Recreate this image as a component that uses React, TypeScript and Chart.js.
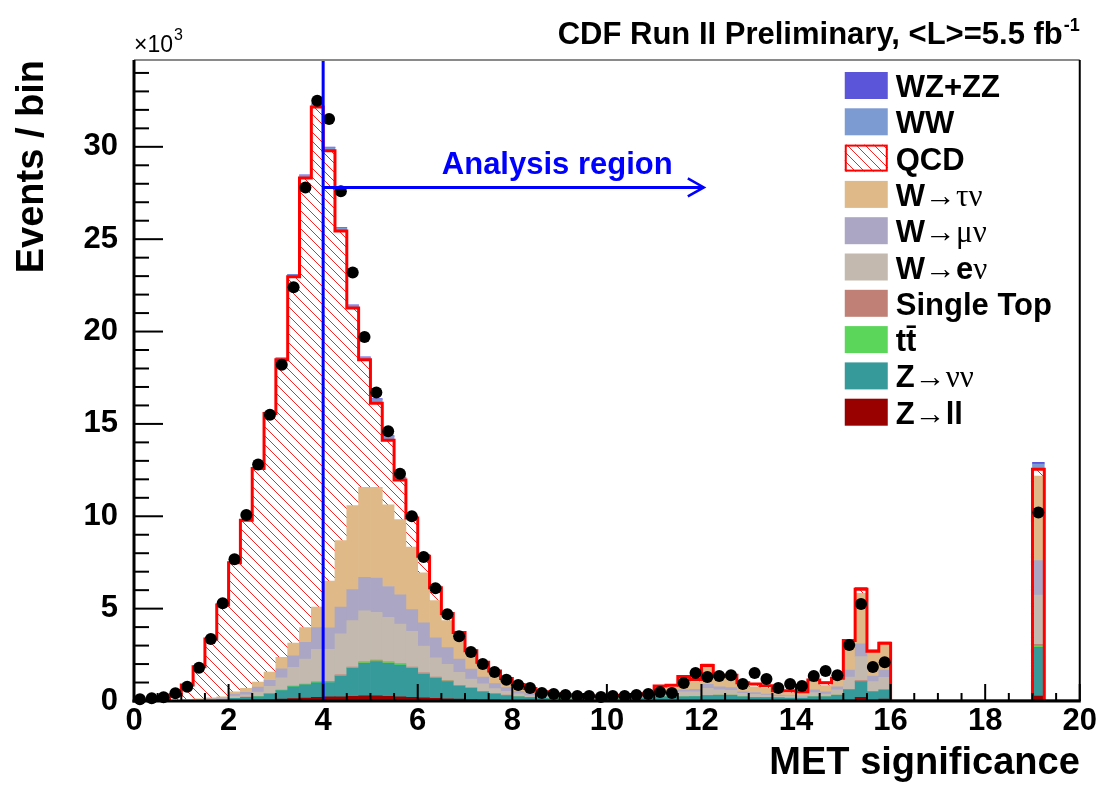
import React, { useEffect, useRef } from 'react';
import { Chart, registerables } from 'chart.js';

Chart.register(...registerables);

// ---------------- axes ----------------
const X_MIN = 0;
const X_MAX = 20;
const BIN_WIDTH = 0.25;
const N_BINS = 80;
const Y_MAX = 34.7; // ×10^3 events
const X_LABEL_STEP = 2;
const X_MINOR_STEP = 0.5;
const Y_LABEL_STEP = 5;
const Y_MINOR_STEP = 1;

// ---------------- values (×10^3 events / bin), 80 bins of 0.25 ----------------
const zll = [
  0, 0, 0.001, 0.002, 0.003, 0.005, 0.008, 0.012, 0.03, 0.04,
  0.06, 0.08, 0.1, 0.13, 0.16, 0.2, 0.23, 0.23, 0.25, 0.28,
  0.28, 0.25, 0.22, 0.2, 0.17, 0.15, 0.12, 0.1, 0.08, 0.06,
  0.05, 0.04, 0.03, 0.02, 0.015, 0.012, 0.01, 0.01, 0.01, 0.01,
  0.01, 0.01, 0.01, 0.01, 0.02, 0.02, 0.02, 0.02, 0.03, 0.02,
  0.02, 0.02, 0.02, 0.02, 0.02, 0.02, 0.02, 0.02, 0.02, 0.02,
  0.05, 0.2, 0.05, 0.1, 0, 0, 0, 0, 0, 0,
  0, 0, 0, 0, 0, 0, 0.27, 0, 0, 0,
];
const znunu = [
  0.002, 0.004, 0.006, 0.01, 0.015, 0.02, 0.035, 0.05, 0.11, 0.16,
  0.17, 0.3, 0.46, 0.64, 0.71, 0.79, 0.77, 1.12, 1.52, 1.76,
  1.85, 1.79, 1.73, 1.57, 1.29, 1.08, 0.93, 0.71, 0.61, 0.44,
  0.33, 0.26, 0.19, 0.16, 0.13, 0.11, 0.09, 0.08, 0.08, 0.08,
  0.09, 0.1, 0.12, 0.15, 0.2, 0.2, 0.2, 0.22, 0.26, 0.29,
  0.29, 0.2, 0.17, 0.17, 0.15, 0.13, 0.13, 0.2, 0.2, 0.29,
  0.55, 0.85, 0.44, 0.49, 0, 0, 0, 0, 0, 0,
  0, 0, 0, 0, 0, 0, 2.63, 0, 0, 0,
];
const ttbar = [
  0, 0, 0, 0, 0.001, 0.002, 0.003, 0.004, 0.005, 0.005,
  0.01, 0.01, 0.015, 0.02, 0.02, 0.025, 0.03, 0.03, 0.035, 0.04,
  0.04, 0.04, 0.04, 0.035, 0.03, 0.03, 0.025, 0.02, 0.02, 0.015,
  0.01, 0.01, 0.008, 0.006, 0.005, 0.004, 0.004, 0.003, 0.003, 0.003,
  0.003, 0.003, 0.004, 0.005, 0.005, 0.005, 0.005, 0.005, 0.005, 0.005,
  0.005, 0.005, 0.005, 0.005, 0.005, 0.005, 0.005, 0.005, 0.005, 0.005,
  0.01, 0.02, 0.01, 0.01, 0, 0, 0, 0, 0, 0,
  0, 0, 0, 0, 0, 0, 0.07, 0, 0, 0,
];
const singleTop = [
  0, 0, 0, 0, 0.001, 0.002, 0.003, 0.004, 0.005, 0.005,
  0.01, 0.01, 0.015, 0.02, 0.02, 0.025, 0.03, 0.03, 0.035, 0.04,
  0.04, 0.04, 0.04, 0.035, 0.03, 0.03, 0.025, 0.02, 0.02, 0.015,
  0.01, 0.01, 0.008, 0.006, 0.005, 0.004, 0.004, 0.003, 0.003, 0.003,
  0.003, 0.003, 0.004, 0.005, 0.005, 0.005, 0.005, 0.005, 0.005, 0.005,
  0.005, 0.005, 0.005, 0.005, 0.005, 0.005, 0.005, 0.005, 0.005, 0.005,
  0.02, 0.03, 0.01, 0.01, 0, 0, 0, 0, 0, 0,
  0, 0, 0, 0, 0, 0, 0.1, 0, 0, 0,
];
const wenu = [
  0.003, 0.005, 0.008, 0.012, 0.02, 0.03, 0.04, 0.05, 0.11, 0.12,
  0.23, 0.39, 0.66, 1.01, 1.36, 1.76, 1.73, 2.23, 2.51, 2.76,
  2.58, 2.4, 2.13, 1.93, 1.45, 1.05, 0.89, 0.7, 0.46, 0.4,
  0.27, 0.2, 0.15, 0.1, 0.07, 0.05, 0.045, 0.04, 0.035, 0.033,
  0.035, 0.04, 0.045, 0.05, 0.09, 0.09, 0.27, 0.25, 0.39, 0.28,
  0.26, 0.18, 0.16, 0.12, 0.09, 0.09, 0.07, 0.22, 0.15, 0.28,
  0.67, 1.3, 0.54, 0.67, 0, 0, 0, 0, 0, 0,
  0, 0, 0, 0, 0, 0, 2.67, 0, 0, 0,
];
const wmunu = [
  0.002, 0.004, 0.006, 0.01, 0.015, 0.02, 0.03, 0.04, 0.11, 0.14,
  0.27, 0.33, 0.49, 0.63, 0.9, 1.17, 1.17, 1.44, 1.68, 1.81,
  1.86, 1.68, 1.59, 1.18, 1.26, 1.08, 0.9, 0.72, 0.54, 0.36,
  0.27, 0.2, 0.14, 0.11, 0.08, 0.06, 0.05, 0.045, 0.04, 0.037,
  0.04, 0.04, 0.045, 0.05, 0.18, 0.18, 0.1, 0.13, 0.21, 0.17,
  0.14, 0.09, 0.09, 0.06, 0.05, 0.05, 0.04, 0.15, 0.12, 0.17,
  0.38, 0.7, 0.3, 0.4, 0, 0, 0, 0, 0, 0,
  0, 0, 0, 0, 0, 0, 1.86, 0, 0, 0,
];
const wtaunu = [
  0.003, 0.006, 0.01, 0.015, 0.025, 0.04, 0.05, 0.07, 0.12, 0.22,
  0.28, 0.45, 0.63, 0.69, 0.81, 1.12, 2.53, 3.61, 4.55, 4.88,
  4.92, 4.42, 4.07, 3.38, 2.71, 2.02, 1.46, 1.09, 0.9, 0.72,
  0.57, 0.43, 0.32, 0.23, 0.15, 0.12, 0.1, 0.085, 0.08, 0.075,
  0.075, 0.08, 0.085, 0.1, 0.22, 0.26, 0.63, 0.42, 0.96, 0.46,
  0.6, 0.42, 0.32, 0.31, 0.15, 0.14, 0.14, 0.43, 0.33, 0.4,
  1.57, 2.73, 1.29, 1.42, 0, 0, 0, 0, 0, 0,
  0, 0, 0, 0, 0, 0, 4.58, 0, 0, 0,
];
const qcd = [
  0.02, 0.04, 0.09, 0.27, 0.79, 1.74, 3.19, 4.97, 7.0, 9.1,
  11.55, 13.99, 16.1, 19.82, 24.33, 27.06, 23.3, 16.75, 10.7, 6.9,
  4.55, 3.5, 2.15, 1.58, 0.9, 0.69, 0.38, 0.35, 0.09, 0.09,
  0.11, 0.07, 0.05, 0.04, 0.04, 0.03, 0.03, 0.027, 0.022, 0.022,
  0.02, 0.02, 0.02, 0.025, 0.09, 0.09, 0.09, 0.12, 0.06, 0.09,
  0.08, 0.07, 0.15, 0.14, 0.09, 0.11, 0.09, 0.11, 0.16, 0.06,
  0.03, 0.22, 0.05, 0.03, 0, 0, 0, 0, 0, 0,
  0, 0, 0, 0, 0, 0, 0.37, 0, 0, 0,
];
const ww = [
  0, 0, 0, 0.002, 0.004, 0.006, 0.01, 0.02, 0.03, 0.04,
  0.05, 0.07, 0.09, 0.12, 0.15, 0.15, 0.17, 0.17, 0.13, 0.13,
  0.2, 0.2, 0.12, 0.1, 0.08, 0.07, 0.06, 0.05, 0.04, 0.03,
  0.03, 0.02, 0.015, 0.012, 0.01, 0.01, 0.007, 0.007, 0.007, 0.007,
  0.007, 0.007, 0.007, 0.008, 0.02, 0.02, 0.03, 0.03, 0.06, 0.03,
  0.03, 0.02, 0.02, 0.02, 0.02, 0.02, 0.02, 0.03, 0.03, 0.03,
  0.03, 0.07, 0.05, 0.03, 0, 0, 0, 0, 0, 0,
  0, 0, 0, 0, 0, 0, 0.28, 0, 0, 0,
];
const wzzz = [
  0, 0, 0, 0, 0, 0.001, 0.002, 0.003, 0.005, 0.01,
  0.01, 0.01, 0.02, 0.02, 0.03, 0.03, 0.03, 0.03, 0.03, 0.03,
  0.05, 0.05, 0.03, 0.02, 0.02, 0.02, 0.01, 0.01, 0.01, 0.01,
  0.01, 0.005, 0.003, 0.002, 0, 0, 0, 0, 0, 0,
  0, 0, 0, 0, 0.005, 0.005, 0.005, 0.005, 0.02, 0.005,
  0.005, 0.005, 0.005, 0.005, 0.005, 0.005, 0.005, 0.005, 0.005, 0.005,
  0.02, 0.03, 0.03, 0.03, 0, 0, 0, 0, 0, 0,
  0, 0, 0, 0, 0, 0, 0.09, 0, 0, 0,
];
const observed: (number | null)[] = [
  0.09, 0.15, 0.2, 0.42, 0.77, 1.8, 3.36, 5.29, 7.67, 10.07,
  12.8, 15.5, 18.2, 22.4, 27.8, 32.5, 31.5, 27.6, 23.2, 19.7,
  16.7, 14.6, 12.3, 10.0, 7.8, 6.1, 4.7, 3.5, 2.65, 2.0,
  1.57, 1.15, 0.87, 0.7, 0.43, 0.38, 0.32, 0.27, 0.27, 0.22,
  0.27, 0.27, 0.32, 0.38, 0.49, 0.43, 0.97, 1.52, 1.3, 1.35,
  1.4, 0.92, 1.52, 1.19, 0.7, 0.92, 0.81, 1.35, 1.62, 1.4,
  3.03, 5.25, 1.84, 2.1, null, null, null, null, null, null,
  null, null, null, null, null, null, 10.2, null, null, null,
];

// annotation
const CUT_VALUE = 4;
const ARROW_END = 12.05;
const ARROW_Y = 27.8;
const ANNOT_X = 8.95;
const ANNOT_TEXT = 'Analysis region';
const TITLE_MAIN = 'CDF Run II Preliminary, <L>=5.5 fb';
const TITLE_SUP = '-1';

const SANS = "'Liberation Sans', Arial, Helvetica, sans-serif";
const SERIF = "'Liberation Serif', 'Times New Roman', serif";

const COLORS = {
  zll: '#990000',
  znunu: '#379a9a',
  ttbar: '#5bd65b',
  singleTop: '#c08076',
  wenu: '#c3b9ae',
  wmunu: '#aaa6c4',
  wtaunu: '#dfba88',
  qcd: '#ff0000',
  ww: '#7c9bd3',
  wzzz: '#5b55d9',
};

// stack, bottom to top
const STACK = [
  { key: 'zll', values: zll },
  { key: 'znunu', values: znunu },
  { key: 'ttbar', values: ttbar },
  { key: 'singleTop', values: singleTop },
  { key: 'wenu', values: wenu },
  { key: 'wmunu', values: wmunu },
  { key: 'wtaunu', values: wtaunu },
  { key: 'qcd', values: qcd },
  { key: 'ww', values: ww },
  { key: 'wzzz', values: wzzz },
];

type Seg = [string, 'b' | 's'];
// legend, top to bottom
const LEGEND: { key: string; segs: Seg[] }[] = [
  { key: 'wzzz', segs: [['WZ+ZZ', 'b']] },
  { key: 'ww', segs: [['WW', 'b']] },
  { key: 'qcd', segs: [['QCD', 'b']] },
  { key: 'wtaunu', segs: [['W', 'b'], ['\u2192\u03c4\u03bd', 's']] },
  { key: 'wmunu', segs: [['W', 'b'], ['\u2192\u03bc\u03bd', 's']] },
  { key: 'wenu', segs: [['W', 'b'], ['\u2192', 's'], ['e', 'b'], ['\u03bd', 's']] },
  { key: 'singleTop', segs: [['Single Top', 'b']] },
  { key: 'ttbar', segs: [['tt\u0304', 'b']] },
  { key: 'znunu', segs: [['Z', 'b'], ['\u2192\u03bd\u03bd', 's']] },
  { key: 'zll', segs: [['Z', 'b'], ['\u2192', 's'], ['ll', 'b']] },
];

function makeHatch(): CanvasPattern | string {
  const s = 9;
  const c = document.createElement('canvas');
  c.width = s;
  c.height = s;
  const g = c.getContext('2d');
  if (!g) return '#ffffff';
  g.fillStyle = '#ffffff';
  g.fillRect(0, 0, s, s);
  g.strokeStyle = '#ff2020';
  g.lineWidth = 1;
  g.beginPath();
  g.moveTo(-1, -1);
  g.lineTo(s + 1, s + 1);
  g.moveTo(-1, s - 1);
  g.lineTo(1, s + 1);
  g.moveTo(s - 1, -1);
  g.lineTo(s + 1, 1);
  g.stroke();
  return g.createPattern(c, 'repeat') || '#ffffff';
}

export default function App() {
  const ref = useRef<HTMLCanvasElement>(null);

  useEffect(() => {
    const canvas = ref.current;
    if (!canvas) return;
    const hatch = makeHatch();

    const centers = Array.from({ length: N_BINS }, (_, i) => X_MIN + (i + 0.5) * BIN_WIDTH);

    const barSets = STACK.map((s) => ({
      type: 'bar' as const,
      label: s.key,
      data: centers.map((c, i) => ({ x: c, y: s.values[i] })),
      backgroundColor: s.key === 'qcd' ? hatch : (COLORS as any)[s.key],
      borderWidth: 0,
      barPercentage: 1,
      categoryPercentage: 1,
      order: 1,
    }));

    const qcdIdx = STACK.findIndex((s) => s.key === 'qcd');
    const qcdTop = centers.map((_, i) =>
      STACK.slice(0, qcdIdx + 1).reduce((acc, s) => acc + s.values[i], 0)
    );
    const stepPts = [
      ...qcdTop.map((v, i) => ({ x: X_MIN + i * BIN_WIDTH, y: v })),
      { x: X_MAX, y: qcdTop[N_BINS - 1] },
    ];

    const pts = centers
      .map((c, i) => (observed[i] == null ? null : { x: c, y: observed[i] as number }))
      .filter((p) => p !== null);

    const decor = {
      id: 'decor',
      afterDraw(chart: any) {
        const { ctx, chartArea: a } = chart;
        const xs = chart.scales.x;
        const ys = chart.scales.y;
        const line = (x1: number, y1: number, x2: number, y2: number) => {
          ctx.beginPath();
          ctx.moveTo(x1, y1);
          ctx.lineTo(x2, y2);
          ctx.stroke();
        };
        ctx.save();

        // cut line + arrow + text
        ctx.strokeStyle = '#0000ff';
        ctx.lineWidth = 3;
        const xc = xs.getPixelForValue(CUT_VALUE);
        line(xc, a.top, xc, a.bottom);
        const ay = ys.getPixelForValue(ARROW_Y);
        const xe = xs.getPixelForValue(ARROW_END);
        line(xc, ay, xe, ay);
        ctx.lineWidth = 2.5;
        ctx.beginPath();
        ctx.moveTo(xe - 16, ay - 9);
        ctx.lineTo(xe, ay);
        ctx.lineTo(xe - 16, ay + 9);
        ctx.stroke();
        ctx.fillStyle = '#0000ff';
        ctx.font = `bold 31px ${SANS}`;
        ctx.textAlign = 'center';
        ctx.textBaseline = 'alphabetic';
        ctx.fillText(ANNOT_TEXT, xs.getPixelForValue(ANNOT_X), ay - 13);

        // tick marks (inside the frame)
        ctx.strokeStyle = '#000';
        ctx.lineWidth = 2;
        for (let v = 0; v <= Y_MAX + 1e-9; v += Y_MINOR_STEP) {
          const py = ys.getPixelForValue(v);
          const major = Math.abs(v / Y_LABEL_STEP - Math.round(v / Y_LABEL_STEP)) < 1e-6;
          line(a.left, py, a.left + (major ? 29 : 15), py);
        }
        for (let v = X_MIN; v <= X_MAX + 1e-9; v += X_MINOR_STEP) {
          const px = xs.getPixelForValue(v);
          const major = Math.abs(v / X_LABEL_STEP - Math.round(v / X_LABEL_STEP)) < 1e-6;
          line(px, a.bottom, px, a.bottom - (major ? 17 : 8));
        }

        // frame
        ctx.strokeStyle = '#8a8a8a';
        ctx.lineWidth = 2;
        line(a.left, a.top, a.right, a.top);
        ctx.strokeStyle = '#000';
        line(a.right, a.top, a.right, a.bottom);
        ctx.lineWidth = 3;
        line(a.left, a.top, a.left, a.bottom + 1.5);
        line(a.left - 1.5, a.bottom, a.right + 1, a.bottom);

        // title
        ctx.fillStyle = '#000';
        ctx.textBaseline = 'alphabetic';
        ctx.font = `bold 18px ${SANS}`;
        const supW = ctx.measureText(TITLE_SUP).width;
        const mainRight = a.right - supW - 1;
        ctx.textAlign = 'left';
        ctx.fillText(TITLE_SUP, mainRight + 1, 31);
        ctx.font = `bold 31px ${SANS}`;
        ctx.textAlign = 'right';
        ctx.fillText(TITLE_MAIN, mainRight, 44);

        // exponent
        ctx.textAlign = 'left';
        ctx.font = `23px ${SANS}`;
        ctx.fillText('\u00d710', a.left, 52);
        const ew = ctx.measureText('\u00d710').width;
        ctx.font = `16px ${SANS}`;
        ctx.fillText('3', a.left + ew + 1, 40);

        // legend
        const bx = a.right - 235;
        const by0 = a.top + 12;
        const step = 36.3;
        LEGEND.forEach((item, k) => {
          const top = by0 + k * step;
          if (item.key === 'qcd') {
            ctx.fillStyle = hatch;
            ctx.fillRect(bx, top, 43, 27);
            ctx.strokeStyle = '#ff0000';
            ctx.lineWidth = 2;
            ctx.strokeRect(bx + 1, top + 1, 41, 25);
          } else {
            ctx.fillStyle = (COLORS as any)[item.key];
            ctx.fillRect(bx, top, 43, 27);
          }
          let tx = bx + 51;
          ctx.fillStyle = '#000';
          ctx.textAlign = 'left';
          for (const [txt, f] of item.segs) {
            ctx.font = f === 'b' ? `bold 31px ${SANS}` : `31px ${SERIF}`;
            ctx.fillText(txt, tx, top + 25);
            tx += ctx.measureText(txt).width;
          }
        });

        ctx.restore();
      },
    };

    const tickFont = { family: SANS, size: 31, weight: 'bold' as const };
    const titleFont = { family: SANS, size: 38, weight: 'bold' as const };

    const chart = new Chart(canvas, {
      type: 'bar',
      data: {
        datasets: [
          ...barSets,
          {
            type: 'line' as const,
            label: 'qcd-outline',
            data: stepPts,
            borderColor: '#ff0000',
            borderWidth: 3,
            pointRadius: 0,
            fill: false,
            stepped: 'before',
            stack: 'outline',
            order: 0,
          } as any,
          {
            type: 'scatter' as const,
            label: 'Data',
            data: pts as any,
            backgroundColor: '#000',
            borderWidth: 0,
            pointRadius: 6,
            stack: 'data',
            clip: false,
            order: -1,
          } as any,
        ],
      },
      options: {
        animation: false,
        responsive: true,
        maintainAspectRatio: false,
        devicePixelRatio: 1,
        events: [],
        layout: { padding: { left: 0, right: 18, top: 60, bottom: 0 } },
        plugins: {
          legend: { display: false },
          tooltip: { enabled: false },
          title: { display: false },
        },
        scales: {
          x: {
            type: 'linear',
            min: X_MIN,
            max: X_MAX,
            offset: false,
            stacked: true,
            grid: { display: false, drawTicks: false, offset: false },
            border: { display: false },
            ticks: {
              stepSize: X_LABEL_STEP,
              font: tickFont,
              color: '#000',
              padding: 2,
              maxRotation: 0,
              autoSkip: false,
            },
            title: {
              display: true,
              text: 'MET significance',
              align: 'end',
              color: '#000',
              font: titleFont,
              padding: { top: 0, bottom: 0 },
            },
            afterFit: (s: any) => {
              s.height = 85;
            },
          },
          y: {
            type: 'linear',
            min: 0,
            max: Y_MAX,
            stacked: true,
            grid: { display: false, drawTicks: false },
            border: { display: false },
            ticks: {
              stepSize: Y_LABEL_STEP,
              includeBounds: false,
              font: tickFont,
              color: '#000',
              padding: 16,
            },
            title: {
              display: true,
              text: 'Events / bin',
              align: 'end',
              color: '#000',
              font: titleFont,
              padding: { top: 10, bottom: 0 },
            },
            afterFit: (s: any) => {
              s.width = 134;
            },
          },
        },
      } as any,
      plugins: [decor],
    });

    return () => chart.destroy();
  }, []);

  return (
    <div style={{ position: 'fixed', left: 0, top: 0, width: 1099, height: 786, background: '#fff' }}>
      <canvas ref={ref} />
    </div>
  );
}
